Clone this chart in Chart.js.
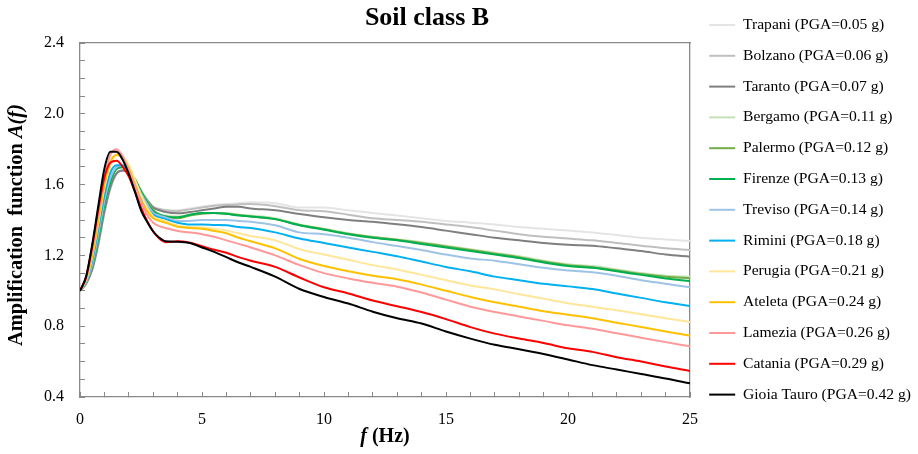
<!DOCTYPE html>
<html>
<head>
<meta charset="utf-8">
<title>Soil class B</title>
<script src="https://cdn.jsdelivr.net/npm/chart.js@4.4.1/dist/chart.umd.min.js"></script>
<style>
  body { margin: 0; background: #fff; }
  #wrap { width: 918px; height: 454px; }
</style>
</head>
<body>
<div id="wrap"><canvas id="ampChart" width="918" height="454"></canvas></div>
<script>
// frequencies (Hz) at which the curves were read
var freqs = [0, 0.25, 0.5, 0.75, 1, 1.25, 1.5, 1.75, 2, 2.25, 2.5, 2.75, 3, 3.25, 3.5, 4, 4.5, 5, 5.5, 6, 6.5, 7,
             8, 9, 10, 11, 12, 13, 14, 15, 16, 17, 18, 19, 20, 21, 22, 23, 24, 25];

var trapani  = [1.00,1.04,1.12,1.26,1.44,1.58,1.66,1.68,1.665,1.62,1.565,1.515,1.478,1.465,1.458,1.455,1.465,1.475,1.485,1.49,1.495,1.50,1.495,1.47,1.47,1.455,1.44,1.425,1.41,1.395,1.385,1.375,1.36,1.35,1.34,1.33,1.315,1.30,1.29,1.281];
var bolzano  = [1.00,1.04,1.12,1.26,1.44,1.58,1.66,1.68,1.665,1.62,1.565,1.515,1.475,1.462,1.455,1.45,1.46,1.47,1.48,1.485,1.488,1.49,1.478,1.455,1.45,1.43,1.41,1.40,1.39,1.375,1.36,1.34,1.32,1.305,1.295,1.285,1.27,1.255,1.24,1.231];
var taranto  = [1.00,1.04,1.12,1.27,1.45,1.59,1.665,1.68,1.665,1.62,1.56,1.51,1.47,1.455,1.445,1.438,1.445,1.455,1.465,1.475,1.475,1.465,1.455,1.434,1.415,1.40,1.39,1.376,1.36,1.34,1.32,1.30,1.285,1.27,1.26,1.255,1.24,1.225,1.205,1.193];
var bergamo  = [1.00,1.05,1.14,1.30,1.49,1.62,1.69,1.70,1.68,1.63,1.565,1.505,1.455,1.435,1.425,1.42,1.43,1.44,1.44,1.44,1.43,1.425,1.41,1.375,1.35,1.325,1.305,1.29,1.275,1.255,1.235,1.215,1.195,1.17,1.15,1.14,1.12,1.10,1.085,1.08];
var palermo  = [1.00,1.05,1.14,1.30,1.49,1.62,1.69,1.70,1.68,1.63,1.565,1.505,1.455,1.43,1.42,1.41,1.425,1.435,1.44,1.435,1.428,1.42,1.405,1.372,1.348,1.322,1.303,1.288,1.27,1.25,1.23,1.21,1.19,1.165,1.145,1.133,1.115,1.095,1.08,1.071];
var firenze  = [1.00,1.05,1.14,1.30,1.49,1.62,1.69,1.70,1.68,1.63,1.56,1.50,1.45,1.43,1.42,1.415,1.43,1.44,1.44,1.435,1.425,1.42,1.405,1.37,1.345,1.32,1.30,1.285,1.265,1.245,1.225,1.205,1.185,1.16,1.14,1.13,1.11,1.09,1.07,1.055];
var treviso  = [1.00,1.05,1.15,1.32,1.51,1.64,1.70,1.71,1.68,1.62,1.55,1.49,1.44,1.425,1.415,1.394,1.395,1.40,1.40,1.40,1.395,1.39,1.37,1.33,1.32,1.30,1.275,1.253,1.23,1.205,1.183,1.17,1.15,1.13,1.115,1.105,1.085,1.06,1.04,1.02];
var rimini   = [1.00,1.06,1.17,1.35,1.54,1.67,1.71,1.71,1.67,1.60,1.53,1.47,1.43,1.415,1.405,1.385,1.375,1.375,1.372,1.37,1.36,1.355,1.33,1.295,1.27,1.245,1.22,1.195,1.165,1.135,1.11,1.08,1.06,1.04,1.025,1.01,0.985,0.96,0.935,0.914];
var perugia  = [1.00,1.06,1.19,1.38,1.58,1.71,1.77,1.76,1.71,1.63,1.54,1.47,1.42,1.405,1.395,1.368,1.36,1.358,1.35,1.34,1.325,1.31,1.285,1.235,1.205,1.175,1.145,1.12,1.09,1.06,1.03,1.008,0.98,0.955,0.93,0.91,0.89,0.868,0.845,0.824];
var ateleta  = [1.00,1.07,1.20,1.40,1.60,1.73,1.767,1.75,1.69,1.60,1.51,1.45,1.41,1.395,1.385,1.362,1.355,1.35,1.338,1.325,1.30,1.28,1.24,1.18,1.14,1.11,1.085,1.065,1.035,1.00,0.965,0.935,0.91,0.885,0.865,0.845,0.82,0.795,0.77,0.746];
var lamezia  = [1.00,1.07,1.23,1.44,1.64,1.77,1.80,1.76,1.68,1.59,1.50,1.43,1.385,1.365,1.355,1.338,1.33,1.32,1.305,1.285,1.265,1.245,1.20,1.145,1.10,1.07,1.045,1.023,0.99,0.95,0.91,0.88,0.855,0.83,0.805,0.785,0.76,0.735,0.71,0.686];
var catania  = [1.00,1.08,1.25,1.46,1.64,1.725,1.735,1.70,1.645,1.56,1.47,1.395,1.335,1.295,1.275,1.28,1.272,1.252,1.232,1.215,1.19,1.17,1.135,1.075,1.02,0.985,0.945,0.913,0.88,0.84,0.795,0.758,0.73,0.705,0.675,0.655,0.625,0.60,0.572,0.547];
var gioia    = [1.00,1.08,1.26,1.48,1.69,1.785,1.785,1.74,1.66,1.56,1.455,1.39,1.335,1.30,1.28,1.277,1.27,1.245,1.22,1.19,1.16,1.135,1.08,1.01,0.965,0.928,0.882,0.845,0.815,0.77,0.73,0.695,0.67,0.643,0.612,0.58,0.555,0.53,0.505,0.477];

var stations = ['Trapani (PGA=0.05 g)', 'Bolzano (PGA=0.06 g)', 'Taranto (PGA=0.07 g)', 'Bergamo (PGA=0.11 g)',
                'Palermo (PGA=0.12 g)', 'Firenze (PGA=0.13 g)', 'Treviso (PGA=0.14 g)', 'Rimini (PGA=0.18 g)',
                'Perugia (PGA=0.21 g)', 'Ateleta (PGA=0.24 g)', 'Lamezia (PGA=0.26 g)', 'Catania (PGA=0.29 g)',
                'Gioia Tauro (PGA=0.42 g)'];
var series = [trapani, bolzano, taranto, bergamo, palermo, firenze, treviso, rimini, perugia, ateleta, lamezia, catania, gioia];
var colors = ['#e4e4e4', '#bfbfbf', '#7f7f7f', '#c5e0b4', '#70ad47', '#00b050', '#9dc3e6', '#00b0f0',
              '#ffe699', '#ffc000', '#ff9999', '#ff0000', '#000000'];

var xTickLabels = [0, 5, 10, 15, 20, 25];
var yTickLabels = [0.4, 0.8, 1.2, 1.6, 2.0, 2.4];

var axisGray = '#898989';
var serif = '"Liberation Serif", "Times New Roman", serif';

var datasets = [];
for (var i = 0; i < stations.length; i++) {
    var vals = series[i];
    datasets.push({
        label: stations[i],
        data: freqs.map(function(f, j) { return {x: f, y: vals[j]}; }),
        borderColor: colors[i],
        backgroundColor: colors[i],
        borderWidth: 2,
        pointRadius: 0,
        cubicInterpolationMode: 'monotone',
        order: stations.length - 1 - i,   // last station drawn on top
        xAxisID: 'x',
        yAxisID: 'y'
    });
}

// draws text pieces with different styles centred on (cx, cy)
function drawParts(ctx, parts, cx, cy) {
    var total = 0;
    var widths = [];
    for (var k = 0; k < parts.length; k++) {
        ctx.font = parts[k][0];
        widths.push(ctx.measureText(parts[k][1]).width);
        total += widths[k];
    }
    var x = cx - total / 2;
    ctx.textAlign = 'left';
    for (var k = 0; k < parts.length; k++) {
        ctx.font = parts[k][0];
        ctx.fillText(parts[k][1], x, cy);
        x += widths[k];
    }
}

var titles = {
    id: 'titles',
    afterDraw: function(chart) {
        var ctx = chart.ctx, area = chart.chartArea;
        ctx.save();
        ctx.fillStyle = '#000';
        ctx.textAlign = 'center';
        ctx.textBaseline = 'alphabetic';
        ctx.font = 'bold 26px ' + serif;
        ctx.fillText('Soil class B', 427, 25);

        ctx.textBaseline = 'middle';
        drawParts(ctx, [['bold italic 20px ' + serif, 'f'], ['bold 20px ' + serif, ' (Hz)']],
                  (area.left + area.right) / 2, 437);

        ctx.translate(17, 225);
        ctx.rotate(-Math.PI / 2);
        drawParts(ctx, [['bold 20.4px ' + serif, 'Amplification  function '], ['bold italic 20.4px ' + serif, 'A(f)']], 0, 0);
        ctx.restore();
    }
};

var ctx = document.getElementById('ampChart').getContext('2d');
var chart = new Chart(ctx, {
    type: 'line',
    data: { datasets: datasets },
    options: {
        responsive: false,
        animation: false,
        devicePixelRatio: 1,
        layout: { padding: { top: 2, right: 6, left: 0, bottom: 0 } },
        plugins: {
            tooltip: { enabled: false },
            title: { display: false },
            legend: {
                position: 'right',
                align: 'start',
                maxWidth: 218,
                labels: {
                    usePointStyle: true,
                    pointStyle: 'line',
                    pointStyleWidth: 26,
                    padding: 15.2,
                    color: '#000',
                    font: { family: serif, size: 15.6 },
                    sort: function(a, b) { return a.datasetIndex - b.datasetIndex; }
                }
            }
        },
        scales: {
            x: {
                type: 'linear',
                position: 'bottom',
                min: 0,
                max: 25,
                afterFit: function(s) { s.height = 57; },
                ticks: {
                    stepSize: 1,
                    autoSkip: false,
                    maxRotation: 0,
                    maxTicksLimit: 30,
                    padding: 18,
                    color: '#000',
                    font: { family: serif, size: 16 },
                    callback: function(v) { return xTickLabels.indexOf(v) >= 0 ? String(v) : ''; }
                },
                grid: { display: true, drawOnChartArea: false, drawTicks: true, tickLength: -5, color: axisGray, lineWidth: 1 },
                border: { display: true, color: axisGray, width: 1.3 }
            },
            y: {
                type: 'linear',
                position: 'left',
                min: 0.4,
                max: 2.4,
                afterFit: function(s) { s.width = 80; },
                ticks: {
                    stepSize: 0.1,
                    autoSkip: false,
                    maxTicksLimit: 25,
                    padding: 21,
                    color: '#000',
                    font: { family: serif, size: 16 },
                    callback: function(v) {
                        for (var k = 0; k < yTickLabels.length; k++) {
                            if (Math.abs(v - yTickLabels[k]) < 1e-6) return yTickLabels[k].toFixed(1);
                        }
                        return '';
                    }
                },
                grid: { display: true, drawOnChartArea: false, drawTicks: true, tickLength: -5, color: axisGray, lineWidth: 1 },
                border: { display: true, color: axisGray, width: 1.3 }
            },
            x2: {
                type: 'linear',
                position: 'top',
                afterFit: function(s) { s.height = 41; },
                ticks: { display: false },
                grid: { display: false },
                border: { display: true, color: axisGray, width: 1.3 }
            },
            y2: {
                type: 'linear',
                position: 'right',
                afterFit: function(s) { s.width = 4; },
                ticks: { display: false },
                grid: { display: false },
                border: { display: true, color: axisGray, width: 1.3 }
            }
        }
    },
    plugins: [titles]
});
</script>
</body>
</html>
